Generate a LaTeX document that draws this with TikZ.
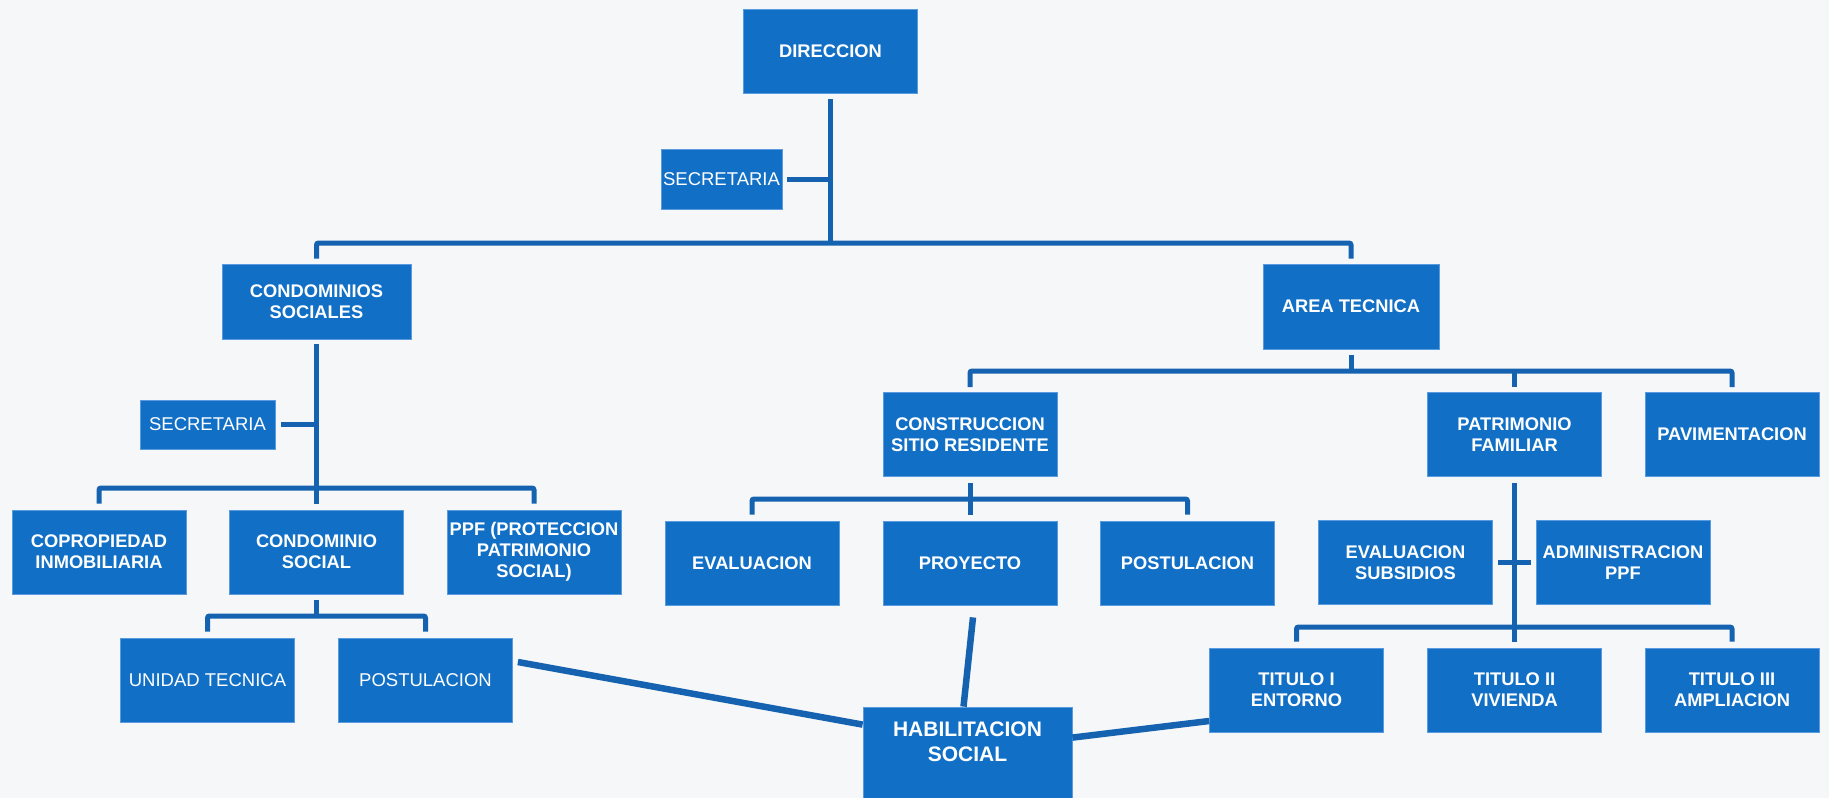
\documentclass[tikz,border=0pt]{standalone}
\usepackage{fontspec}
\setmainfont{Liberation Sans}
\definecolor{boxblue}{HTML}{1170C6}
\definecolor{boxedge}{HTML}{5A9BE0}
\definecolor{linkblue}{HTML}{1562B0}
\definecolor{bgcol}{HTML}{F6F7F9}
\begin{document}
\begin{tikzpicture}[x=1pt,y=1pt,
  box/.style={rectangle, fill=boxblue, draw=boxedge, line width=0.8pt, text=white,
    inner sep=0pt, align=center, minimum width=174pt, minimum height=84pt,
    font=\bfseries\fontsize{18.3}{21}\selectfont},
  secbox/.style={box, font=\fontsize{18.5}{21}\selectfont},
  habbox/.style={box, minimum width=209pt, minimum height=91pt},
  habtext/.style={text=white, inner sep=0pt, align=center,
    font=\bfseries\fontsize{21}{25}\selectfont},
  conn/.style={draw=linkblue, line width=5pt},
  elbow/.style={conn, rounded corners=2pt},
  diag/.style={draw=linkblue, line width=6.5pt}]

\fill[bgcol] (0,0) rectangle (1829,-798);
\useasboundingbox (0,0) rectangle (1829,-798);

% nodes
\node[box] (dir) at (830.5,-51) {DIRECCION};
\node[secbox, minimum width=121pt, minimum height=60pt] (sec1) at (721.5,-179) {SECRETARIA};
\node[box, minimum width=189pt, minimum height=75pt] (cs) at (316.5,-301.5) {CONDOMINIOS\\SOCIALES};
\node[box, minimum width=176pt, minimum height=85pt] (at) at (1351,-306.5) {AREA TECNICA};
\node[secbox, minimum width=135pt, minimum height=49pt] (sec2) at (207.5,-424.5) {SECRETARIA};
\node[box] (copro) at (99,-552) {COPROPIEDAD\\INMOBILIARIA};
\node[box] (cond) at (316.5,-552) {CONDOMINIO\\SOCIAL};
\node[box] (ppf) at (534,-552) {PPF (PROTECCION\\PATRIMONIO\\SOCIAL)};
\node[secbox] (ut) at (207.5,-680) {UNIDAD TECNICA};
\node[secbox] (postl) at (425.5,-680) {POSTULACION};
\node[box] (csr) at (970,-434.5) {CONSTRUCCION\\SITIO RESIDENTE};
\node[box] (pf) at (1514.5,-434.5) {PATRIMONIO\\FAMILIAR};
\node[box] (pav) at (1732,-434.5) {PAVIMENTACION};
\node[box] (eval) at (752,-563) {EVALUACION};
\node[box] (proy) at (970,-563) {PROYECTO};
\node[box] (postc) at (1187.5,-563) {POSTULACION};
\node[box] (evs) at (1405.5,-562.5) {EVALUACION\\SUBSIDIOS};
\node[box] (adm) at (1623,-562.5) {ADMINISTRACION\\PPF};
\node[box] (t1) at (1296.5,-690) {TITULO I\\ENTORNO};
\node[box] (t2) at (1514.5,-690) {TITULO II\\VIVIENDA};
\node[box] (t3) at (1732,-690) {TITULO III\\AMPLIACION};
\node[habbox] (hab) at (967.5,-752.5) {};
\node[habtext] (habt) at (967.5,-742) {HABILITACION\\SOCIAL};

% junction levels
\coordinate (h1) at (0,-243);
\coordinate (h2) at (0,-488);
\coordinate (h3) at (0,-616);
\coordinate (h4) at (0,-371);
\coordinate (h5) at (0,-499);
\coordinate (h6) at (0,-627);

% DIRECCION
\draw[conn] ([yshift=-6pt]dir.south) -- (dir.south |- h1);
\draw[elbow] ([yshift=5pt]cs.north) -- (cs.north |- h1) -- (at.north |- h1) -- ([yshift=5pt]at.north);
\draw[conn] ([xshift=5pt]sec1.east) -- (sec1.east -| dir.south);

% CONDOMINIOS SOCIALES
\draw[conn] ([yshift=-5pt]cs.south) -- ([yshift=6pt]cond.north);
\draw[elbow] ([yshift=6pt]copro.north) -- (copro.north |- h2) -- (ppf.north |- h2) -- ([yshift=6pt]ppf.north);
\draw[conn] ([xshift=6pt]sec2.east) -- (sec2.east -| cs.south);

% CONDOMINIO SOCIAL
\draw[conn] ([yshift=-6pt]cond.south) -- (cond.south |- h3);
\draw[elbow] ([yshift=6pt]ut.north) -- (ut.north |- h3) -- (postl.north |- h3) -- ([yshift=6pt]postl.north);

% AREA TECNICA
\draw[conn] ([yshift=-6pt]at.south) -- (at.south |- h4);
\draw[elbow] ([yshift=5pt]csr.north) -- (csr.north |- h4) -- (pav.north |- h4) -- ([yshift=5pt]pav.north);
\draw[conn] (pf.north |- h4) -- ([yshift=5pt]pf.north);

% CONSTRUCCION SITIO RESIDENTE
\draw[conn] ([yshift=-6pt]csr.south) -- ([yshift=6pt]proy.north);
\draw[elbow] ([yshift=6pt]eval.north) -- (eval.north |- h5) -- (postc.north |- h5) -- ([yshift=6pt]postc.north);

% PATRIMONIO FAMILIAR
\draw[conn] ([yshift=-6pt]pf.south) -- ([yshift=6pt]t2.north);
\draw[conn] ([xshift=5pt]evs.east) -- ([xshift=-5pt]adm.west);
\draw[elbow] ([yshift=6pt]t1.north) -- (t1.north |- h6) -- (t3.north |- h6) -- ([yshift=6pt]t3.north);

% HABILITACION SOCIAL
\draw[diag] ([xshift=5pt,yshift=18pt]postl.east) -- ([yshift=-18pt]hab.north west);
\draw[diag] ([xshift=3pt,yshift=-12pt]proy.south) -- ([xshift=-4pt]hab.north);
\draw[diag] ([yshift=-31pt]hab.north east) -- ([yshift=-31pt]t1.west);
\end{tikzpicture}
\end{document}
